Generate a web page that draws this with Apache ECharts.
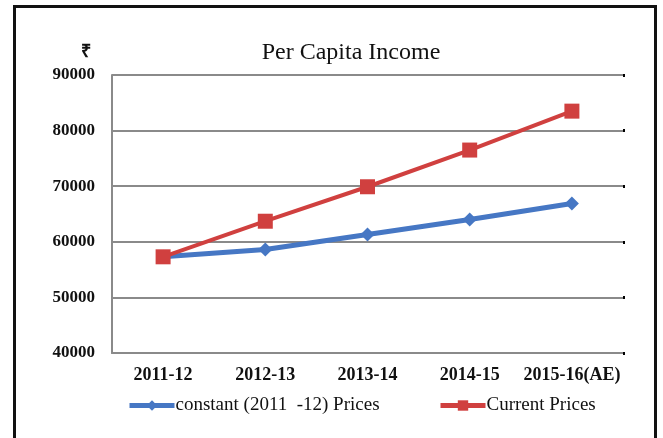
<!DOCTYPE html>
<html>
<head>
<meta charset="utf-8">
<script src="https://cdn.jsdelivr.net/npm/echarts@6/dist/echarts.min.js"></script>
<style>
  html, body { margin: 0; padding: 0; background: #ffffff; }
  #chart { width: 663px; height: 438px; }
  #frame {
    position: absolute; left: 13px; top: 5px; width: 638px; height: 440px;
    border: 3px solid #111; pointer-events: none;
  }
</style>
</head>
<body>
<div id="chart"></div>
<div id="frame"></div>
<script>
// Per capita income, in rupees
const years = ['2011-12', '2012-13', '2013-14', '2014-15', '2015-16(AE)'];
const constantPrices = [57300, 58600, 61300, 64000, 66900];
const currentPrices = [57300, 63700, 69900, 76500, 83500];
const yTicks = [40000, 50000, 60000, 70000, 80000, 90000];

const seriesNames = ['constant (2011  -12) Prices', 'Current Prices'];
const blue = '#4677c4';
const red = '#d0403f';
const serif = '"Liberation Serif", "Times New Roman", serif';

const chart = echarts.init(document.getElementById('chart'), null, { renderer: 'canvas' });

const legendBase = {
  top: 391,
  itemWidth: 45, itemHeight: 13, itemGap: 0,
  lineStyle: { width: 5 },
  textStyle: { fontFamily: serif, fontSize: 19, color: '#111', padding: [0, 0, 0, -4] }
};

chart.setOption({
  animation: false,
  backgroundColor: '#ffffff',
  title: {
    text: 'Per Capita Income',
    left: 346,
    textAlign: 'center',
    top: 36,
    textStyle: { fontFamily: serif, fontSize: 24, fontWeight: 'normal', color: '#111' }
  },
  legend: [
    Object.assign({}, legendBase, { data: [seriesNames[0]], left: 122 }),
    Object.assign({}, legendBase, { data: [seriesNames[1]], left: 433 })
  ],
  grid: { left: 112, right: 40, top: 75, bottom: 85, containLabel: false },
  xAxis: {
    type: 'category',
    data: years,
    boundaryGap: true,
    axisLine: { show: true, lineStyle: { color: '#8a8a8a', width: 2 } },
    axisTick: { show: false },
    axisLabel: {
      margin: 13,
      fontFamily: serif, fontSize: 18, fontWeight: 'bold', color: '#111',
      interval: 0
    }
  },
  yAxis: [
    {
      type: 'value',
      min: yTicks[0],
      max: yTicks[yTicks.length - 1],
      interval: 10000,
      name: '₹',
      nameLocation: 'end',
      nameGap: 14,
      nameTextStyle: { fontFamily: serif, fontSize: 18, fontWeight: 'bold', color: '#111', align: 'right', padding: [0, 21, 0, 0] },
      axisLine: { show: true, lineStyle: { color: '#8a8a8a', width: 2 } },
      axisTick: { show: false },
      axisLabel: {
        margin: 17,
        formatter: (v) => String(v),
        fontFamily: serif, fontSize: 17, fontWeight: 'bold', color: '#111'
      },
      splitLine: { show: true, lineStyle: { color: '#8a8a8a', width: 2 } }
    },
    {
      // small dark end marks on the right edge of each gridline
      type: 'value',
      position: 'right',
      min: yTicks[0],
      max: yTicks[yTicks.length - 1],
      interval: 10000,
      axisLine: { show: false },
      axisTick: { show: true, inside: false, length: 2, lineStyle: { color: '#000', width: 3 } },
      axisLabel: { show: false },
      splitLine: { show: false }
    }
  ],
  series: [
    {
      name: seriesNames[0],
      type: 'line',
      data: constantPrices,
      symbol: 'diamond',
      symbolSize: 14,
      color: blue,
      lineStyle: { color: blue, width: 5 },
      itemStyle: { color: blue },
      z: 3
    },
    {
      name: seriesNames[1],
      type: 'line',
      data: currentPrices,
      symbol: 'rect',
      symbolSize: 15,
      color: red,
      lineStyle: { color: red, width: 4 },
      itemStyle: { color: red },
      z: 4
    }
  ]
});
</script>
</body>
</html>
